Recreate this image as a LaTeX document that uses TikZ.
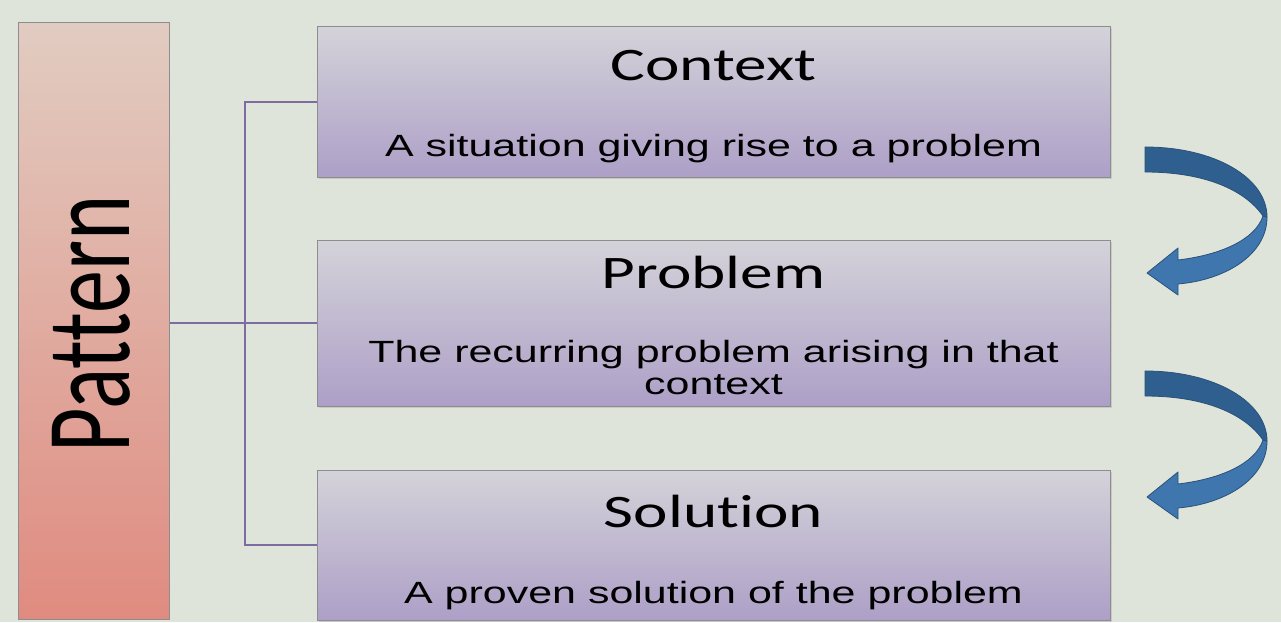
\documentclass[tikz,border=0pt]{standalone}
\usepackage{fontspec}
\usepackage{graphicx}
\usetikzlibrary{shadows}
\newfontfamily\titlefont[FakeStretch=1.4, Ligatures=NoCommon]{Carlito}
\newfontfamily\bodyfont[FakeStretch=1.4]{Liberation Sans}
\newfontfamily\patfont[Ligatures=NoCommon]{Carlito}
\definecolor{bgc}{HTML}{DEE4DA}
\definecolor{boxtop}{HTML}{D4D3D9}
\definecolor{boxbot}{HTML}{AD9FC7}
\definecolor{pattop}{HTML}{E1CCC1}
\definecolor{patbot}{HTML}{E08B80}
\definecolor{boxedge}{HTML}{8E8C90}
\definecolor{connc}{HTML}{7E6BA2}
\definecolor{arrdark}{HTML}{2F5F8F}
\definecolor{arrlight}{HTML}{3F76AE}
\definecolor{arredge}{HTML}{2A5278}
\tikzset{
  itembox/.style={draw=boxedge, line width=1pt, top color=boxtop, bottom color=boxbot,
    minimum width=793pt, inner sep=0pt,
    drop shadow={shadow xshift=2pt, shadow yshift=-2pt, opacity=0.25}},
  patbox/.style={draw=boxedge, line width=1pt, top color=pattop, bottom color=patbot,
    minimum width=151pt, minimum height=597pt, inner sep=0pt},
  title/.style={font=\titlefont\fontsize{46.6}{50}\selectfont, anchor=base, inner sep=0pt},
  body/.style={font=\bodyfont\fontsize{30.7}{32}\selectfont, anchor=base, inner sep=0pt, align=center},
  conn/.style={draw=connc, line width=2pt},
  bandtop/.style={fill=arrdark, draw=arredge, line width=0.8pt, line join=round},
  bandlow/.style={fill=arrlight, draw=arredge, line width=0.8pt, line join=round},
}
\begin{document}
\begin{tikzpicture}[x=1pt, y=-1pt]
\fill[bgc] (0,0) rectangle (1281,622);
\useasboundingbox (0,0) rectangle (1281,622);

% Pattern box
\node[patbox] (pat) at (93.5,320.5) {};
\node[rotate=90, inner sep=0pt] (pattxt) at (91,324)
  {\scalebox{1}[1.4]{\patfont\fontsize{86}{90}\selectfont Pattern}};

% Item boxes
\node[itembox, minimum height=151pt] (ctx) at (713.5,101.5) {};
\node[itembox, minimum height=166pt] (prb) at (713.5,323) {};
\node[itembox, minimum height=150pt] (sol) at (713.5,545) {};

\node[title] (ctxt) at (713.5,80) {Context};
\node[body]  (ctxb) at (713.5,156) {A situation giving rise to a problem};
\node[title] (prbt) at (713.5,288) {Problem};
\node[body]  (prbb) at (713.5,394) {The recurring problem arising in that\\context};
\node[title] (solt) at (713.5,527) {Solution};
\node[body]  (solb) at (713.5,603) {A proven solution of the problem};

% Connectors
\coordinate (bus) at (245,0);
\draw[conn] (ctx.west) -- (ctx.west -| bus) |- (sol.west);
\draw[conn] (pat.east |- prb.west) -- (prb.west);

% Curved arrows
\foreach \dy in {0,224}{
  \begin{scope}[shift={(0,\dy)}]
    \path[bandlow] (1267,217) .. controls (1267,255) and (1225,280) .. (1178,284)
      -- (1178,295) -- (1147,273) -- (1178,248) -- (1178,260)
      .. controls (1220,255) and (1255,240) .. (1263,216) -- cycle;
    \path[bandtop] (1145,147) .. controls (1215,147) and (1267,178) .. (1267,217)
      -- (1263,216) .. controls (1245,190) and (1205,172) .. (1145,172) -- cycle;
  \end{scope}
}
\end{tikzpicture}
\end{document}
